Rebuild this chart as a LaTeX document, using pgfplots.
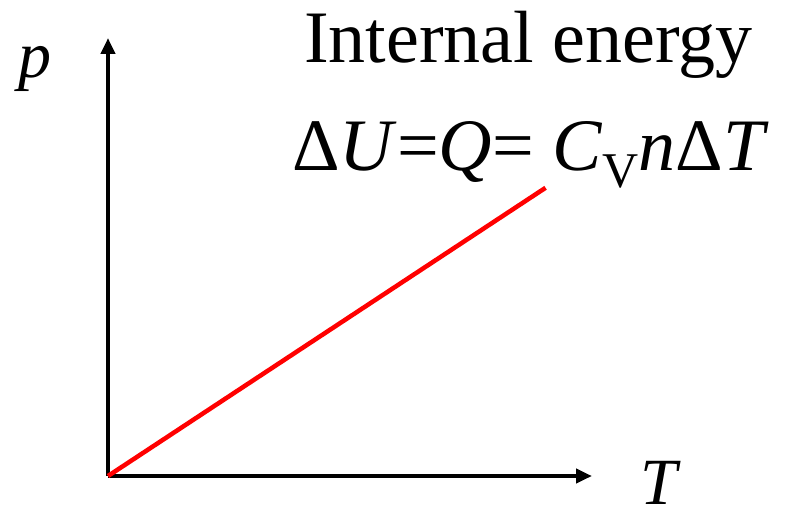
\documentclass[border=0pt]{standalone}
\usepackage{fontspec}
\setmainfont{Liberation Serif}
\newfontfamily\tnr{Liberation Serif}
\usepackage{pgfplots}
\pgfplotsset{compat=1.18}
\usetikzlibrary{arrows.meta}

\begin{document}
\begin{tikzpicture}[x=1pt,y=1pt]
\useasboundingbox (0,0) rectangle (791,504);
\begin{axis}[
  at={(108pt,28pt)}, anchor=south west,
  scale only axis, width=484pt, height=438pt,
  xmin=0, xmax=10, ymin=0, ymax=10,
  axis lines=left,
  axis line style={line width=4pt, -{Triangle[length=16pt,width=14pt]}},
  ticks=none,
  clip=false,
]
% p-T line, from origin
\addplot[red, line width=4.5pt] coordinates {(0,0) (9.04,6.58)};
\end{axis}
\node[anchor=base west, inner sep=0, font=\tnr\fontsize{74}{80}\selectfont]
  at (304,441) {Internal energy};
\node[anchor=base west, inner sep=0, font=\tnr\fontsize{74}{80}\selectfont]
  at (292,334) {Δ\textit{U}=\textit{Q}= \textit{C}\raisebox{-17pt}{\fontsize{50}{50}\selectfont V}\textit{n}Δ\textit{T}};
\node[anchor=base west, inner sep=0, font=\tnr\fontsize{66}{70}\selectfont\itshape]
  at (18,426) {p};
\node[anchor=base west, inner sep=0, font=\tnr\fontsize{66}{70}\selectfont\itshape]
  at (640,0) {T};
\end{tikzpicture}
\end{document}
